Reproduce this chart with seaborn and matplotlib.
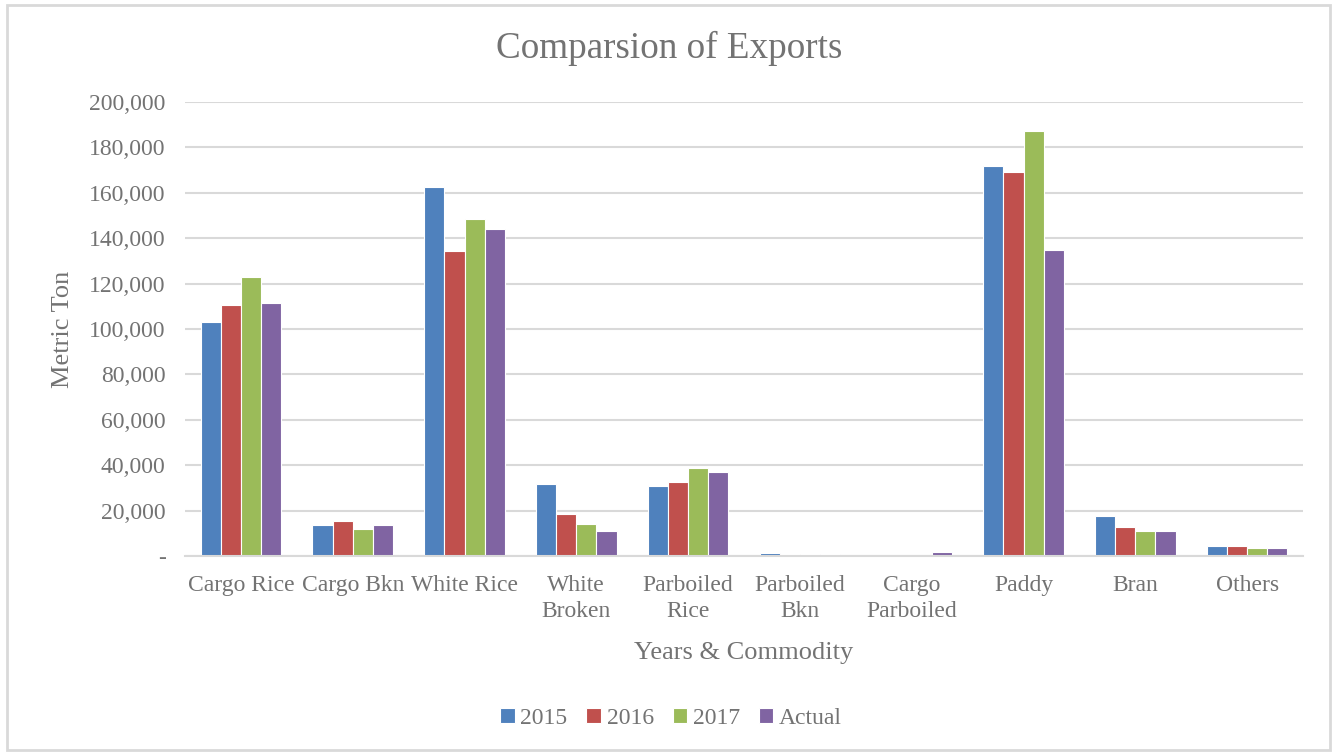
import matplotlib
matplotlib.use("Agg")
import matplotlib.pyplot as plt
import matplotlib.ticker as mticker
from matplotlib.patches import Rectangle
import seaborn as sns
import pandas as pd

categories = ["Cargo Rice", "Cargo Bkn", "White Rice", "White\nBroken", "Parboiled\nRice",
              "Parboiled\nBkn", "Cargo\nParboiled", "Paddy", "Bran", "Others"]
series_names = ["2015", "2016", "2017", "Actual"]
v2015 = [103000, 13700, 162600, 31700, 30800, 1300, 300, 171800, 17600, 4400]
v2016 = [110600, 15400, 134400, 18500, 32600, 800, 300, 169200, 12800, 4400]
v2017 = [122700, 11900, 148500, 14100, 38800, 800, 300, 187400, 11000, 3600]
vactual = [111500, 13700, 144000, 11000, 37000, 1000, 1700, 135000, 11000, 3600]
colors = ["#4F81BD", "#C0504D", "#9BBB59", "#8064A2"]

rows = []
for name, vals in zip(series_names, [v2015, v2016, v2017, vactual]):
    for c, v in zip(categories, vals):
        rows.append({"Commodity": c, "Series": name, "Value": v})
df = pd.DataFrame(rows)

sns.set_theme(style="white")
plt.rcParams["font.family"] = ["Liberation Serif", "DejaVu Serif"]
txt = "#737373"

fig = plt.figure(figsize=(13.38, 7.53), dpi=100)
fig.patch.set_facecolor("white")
ax = fig.add_axes([185/1338, 1 - 556/753, (1303-185)/1338, (556-102)/753])

sns.barplot(data=df, x="Commodity", y="Value", hue="Series", order=categories,
            hue_order=series_names, palette=colors, width=0.72, ax=ax,
            edgecolor="white", linewidth=0.8, saturation=1, errorbar=None)

ax.set_ylim(0, 200000)
ax.set_xlim(-0.5, len(categories) - 0.5)
ax.yaxis.set_major_locator(mticker.MultipleLocator(20000))
ax.yaxis.set_major_formatter(mticker.FuncFormatter(lambda v, p: "-" if v == 0 else f"{int(v):,}"))
ax.grid(axis="y", color="#D9D9D9", linewidth=1.5)
ax.set_axisbelow(True)
for s in ["top", "right", "left"]:
    ax.spines[s].set_visible(False)
ax.spines["bottom"].set_color("#D9D9D9")
ax.spines["bottom"].set_linewidth(1.5)
ax.tick_params(axis="both", length=0, labelsize=17, colors=txt)
ax.tick_params(axis="y", pad=14)
ax.tick_params(axis="x", pad=14)
for lab in ax.get_xticklabels():
    lab.set_linespacing(1.3)

ax.set_xlabel("Years & Commodity", fontsize=19, color=txt, labelpad=14)
ax.set_ylabel("Metric Ton", fontsize=19, color=txt, labelpad=11)

fig.text(0.5, 1 - 48/753, "Comparsion of Exports", ha="center", va="center",
         fontsize=26.7, color=txt)

handles, labels = ax.get_legend_handles_labels()
ax.legend_.remove()
fig.legend(handles, labels, loc="center", bbox_to_anchor=(0.5015, 1 - 718/753), ncol=4,
           frameon=False, fontsize=17, handlelength=0.6, handleheight=0.6,
           handletextpad=0.25, columnspacing=0.8, labelcolor=txt)

fig.patches.append(Rectangle((7/1338, 3/753), 1323/1338, 745/753, transform=fig.transFigure,
                             fill=False, edgecolor="#D9D9D9", linewidth=2))

fig.savefig("out.png", dpi=100)
